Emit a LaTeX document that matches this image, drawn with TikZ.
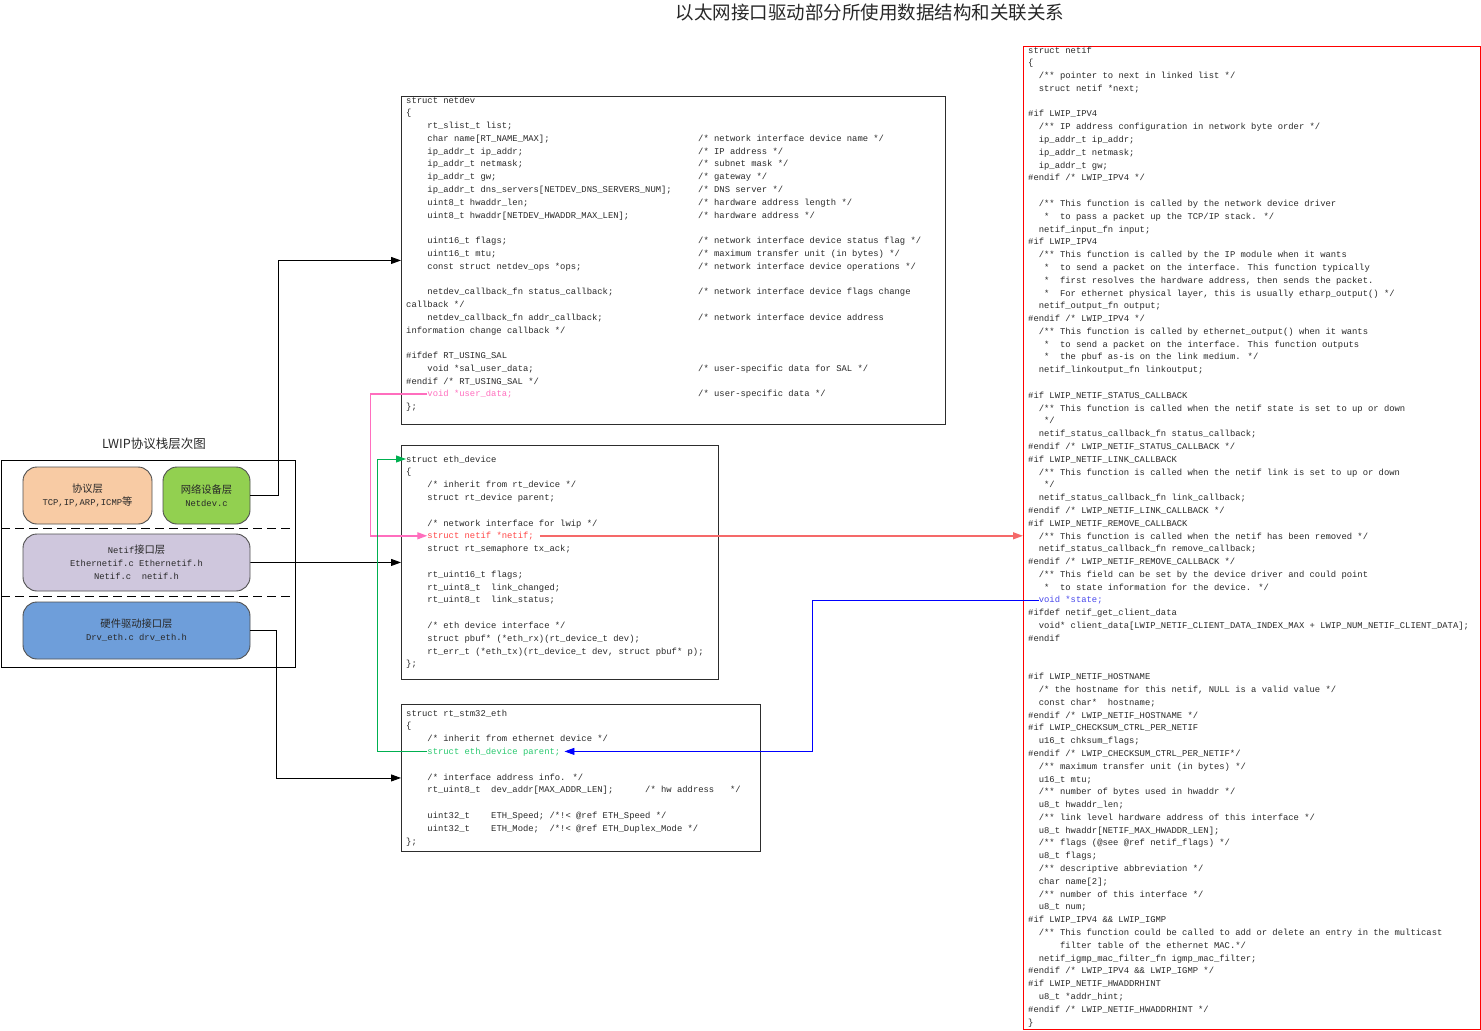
\documentclass[tikz,border=0pt]{standalone}
\usepackage{fontspec}
\newfontfamily\codefont{Liberation Mono}
\newfontfamily\cjk{Noto Sans CJK SC}
\usetikzlibrary{positioning, arrows.meta}

\definecolor{cCode}{RGB}{40,40,40}
\definecolor{cFrame}{RGB}{45,45,45}
\definecolor{cEdge}{RGB}{80,80,80}
\definecolor{cOrange}{RGB}{248,203,164}
\definecolor{cGreenL}{RGB}{146,208,80}
\definecolor{cLav}{RGB}{207,199,221}
\definecolor{cBlueL}{RGB}{110,158,218}
\definecolor{cPink}{RGB}{255,110,190}
\definecolor{cRedLn}{RGB}{245,105,105}
\definecolor{cRedTx}{RGB}{255,70,70}
\definecolor{cGreen}{RGB}{0,176,80}
\definecolor{cGreenTx}{RGB}{40,200,110}
\definecolor{cBlue}{RGB}{0,0,255}
\definecolor{cBlueTx}{RGB}{70,70,235}

\newcommand\cn[1]{{\cjk\fontsize{10.3}{13}\selectfont #1}}

\begin{document}
\begin{tikzpicture}[
  x=1pt, y=-1pt,
  >={Triangle[length=10pt, width=7pt]},
  code/.style      = {font=\codefont\fontsize{8.85}{12.8}\selectfont, anchor=base west, inner sep=0pt, text height=7pt, text depth=1pt, text=cCode},
  structbox/.style = {draw=cFrame, line width=0.9pt, anchor=north west, inner sep=0pt},
  layer/.style     = {draw=cEdge, line width=0.9pt, rounded corners=14pt, align=center, inner sep=0pt, minimum height=57pt, text=cCode, font=\codefont\fontsize{8.85}{13}\selectfont},
  laysep/.style    = {line width=0.9pt, dash pattern=on 9pt off 5pt},
  conn/.style      = {->, line width=0.9pt},
]
  \useasboundingbox (0,0) rectangle (1481,1031);
  \node[font=\cjk\fontsize{18.5}{20}\selectfont, text=cCode] (title) at (870,13) {以太网接口驱动部分所使用数据结构和关联关系};

  % LWIP layers
  \node[font=\cjk\fontsize{12.5}{14}\selectfont, text=cCode] (stacktitle) at (154,444) {LWIP协议栈层次图};
  \node[structbox, draw=black, minimum width=294pt, minimum height=207pt] (stackbox) at (1,460) {};
  \draw[laysep] (1,528) -- (295,528);
  \draw[laysep] (1,596) -- (295,596);
  \node[layer, fill=cOrange, minimum width=129pt] (protlayer) at (87.5,495.5) {\cn{协议层}\\TCP,IP,ARP,ICMP\cn{等}};
  \node[layer, fill=cGreenL, minimum width=87pt] (devlayer) at (206.5,495.5) {\cn{网络设备层}\\Netdev.c};
  \node[layer, fill=cLav, minimum width=227pt] (iflayer) at (136.5,562.5) {Netif\cn{接口层}\\Ethernetif.c Ethernetif.h\\Netif.c~~netif.h};
  \node[layer, fill=cBlueL, minimum width=227pt] (drvlayer) at (136.5,630.5) {\cn{硬件驱动接口层}\\Drv\_eth.c drv\_eth.h};

  % struct boxes
  \node[structbox, minimum width=544pt, minimum height=328pt] (ndbox) at (401,96) {};
  \node[structbox, minimum width=317pt, minimum height=234pt] (edbox) at (401,445) {};
  \node[structbox, minimum width=359pt, minimum height=147pt] (stbox) at (401,704) {};
  \node[structbox, draw=red, minimum width=457pt, minimum height=983pt] (nfbox) at (1023,46) {};

  % struct netdev
  \foreach \k/\i/\t in {1/0/{struct netdev}, 2/0/{\{}, 3/4/{rt\_slist\_t list;}, 4/4/{char name[RT\_NAME\_MAX];},
      5/4/{ip\_addr\_t ip\_addr;}, 6/4/{ip\_addr\_t netmask;}, 7/4/{ip\_addr\_t gw;},
      8/4/{ip\_addr\_t dns\_servers[NETDEV\_DNS\_SERVERS\_NUM];}, 9/4/{uint8\_t hwaddr\_len;},
      10/4/{uint8\_t hwaddr[NETDEV\_HWADDR\_MAX\_LEN];}, 12/4/{uint16\_t flags;}, 13/4/{uint16\_t mtu;},
      14/4/{const struct netdev\_ops *ops;}, 16/4/{netdev\_callback\_fn status\_callback;}, 17/0/{callback */},
      18/4/{netdev\_callback\_fn addr\_callback;}, 19/0/{information change callback */},
      21/0/{\#ifdef RT\_USING\_SAL}, 22/4/{void *sal\_user\_data;}, 23/0/{\#endif /* RT\_USING\_SAL */}, 25/0/{\};}}
    \node[code] (nd\k) at ({406+5.32*\i},{103+12.78*(\k-1)}) {\t};
  \foreach \k/\t in {4/{/* network interface device name */}, 5/{/* IP address */}, 6/{/* subnet mask */},
      7/{/* gateway */}, 8/{/* DNS server */}, 9/{/* hardware address length */}, 10/{/* hardware address */},
      12/{/* network interface device status flag */}, 13/{/* maximum transfer unit (in bytes) */},
      14/{/* network interface device operations */}, 16/{/* network interface device flags change},
      18/{/* network interface device address}, 22/{/* user-specific data for SAL */}, 24/{/* user-specific data */}}
    \node[code] (ndc\k) at (698,{103+12.78*(\k-1)}) {\t};
  \node[code, text=cPink] (nduser) at ({406+5.32*4},{103+12.78*23}) {void *user\_data;};

  % struct eth_device
  \foreach \k/\i/\t in {1/0/{struct eth\_device}, 2/0/{\{}, 3/4/{/* inherit from rt\_device */},
      4/4/{struct rt\_device parent;}, 6/4/{/* network interface for lwip */}, 8/4/{struct rt\_semaphore tx\_ack;},
      10/4/{rt\_uint16\_t flags;}, 11/4/{rt\_uint8\_t~~link\_changed;}, 12/4/{rt\_uint8\_t~~link\_status;},
      14/4/{/* eth device interface */}, 15/4/{struct pbuf* (*eth\_rx)(rt\_device\_t dev);},
      16/4/{rt\_err\_t (*eth\_tx)(rt\_device\_t dev, struct pbuf* p);}, 17/0/{\};}}
    \node[code] (ed\k) at ({406+5.32*\i},{462+12.8*(\k-1)}) {\t};
  \node[code, text=cRedTx] (ednetif) at ({406+5.32*4},{462+12.8*6}) {struct netif *netif;};

  % struct rt_stm32_eth
  \foreach \k/\i/\t in {1/0/{struct rt\_stm32\_eth}, 2/0/{\{}, 3/4/{/* inherit from ethernet device */},
      6/4/{/* interface address info. */}, 7/4/{rt\_uint8\_t~~dev\_addr[MAX\_ADDR\_LEN];~~~~~~/* hw address~~~*/},
      9/4/{uint32\_t~~~~ETH\_Speed; /*!< @ref ETH\_Speed */}, 10/4/{uint32\_t~~~~ETH\_Mode;~~/*!< @ref ETH\_Duplex\_Mode */},
      11/0/{\};}}
    \node[code] (st\k) at ({406+5.32*\i},{716+12.8*(\k-1)}) {\t};
  \node[code, text=cGreenTx] (stparent) at ({406+5.32*4},{716+12.8*3}) {struct eth\_device parent;};

  % struct netif
  \foreach \k/\i/\t in {1/0/{struct netif}, 2/0/{\{}, 3/2/{/** pointer to next in linked list */}, 4/2/{struct netif *next;},
      6/0/{\#if LWIP\_IPV4}, 7/2/{/** IP address configuration in network byte order */}, 8/2/{ip\_addr\_t ip\_addr;},
      9/2/{ip\_addr\_t netmask;}, 10/2/{ip\_addr\_t gw;}, 11/0/{\#endif /* LWIP\_IPV4 */},
      13/2/{/** This function is called by the network device driver}, 14/3/{*~~to pass a packet up the TCP/IP stack. */},
      15/2/{netif\_input\_fn input;}, 16/0/{\#if LWIP\_IPV4},
      17/2/{/** This function is called by the IP module when it wants},
      18/3/{*~~to send a packet on the interface. This function typically},
      19/3/{*~~first resolves the hardware address, then sends the packet.},
      20/3/{*~~For ethernet physical layer, this is usually etharp\_output() */},
      21/2/{netif\_output\_fn output;}, 22/0/{\#endif /* LWIP\_IPV4 */},
      23/2/{/** This function is called by ethernet\_output() when it wants},
      24/3/{*~~to send a packet on the interface. This function outputs},
      25/3/{*~~the pbuf as-is on the link medium. */}, 26/2/{netif\_linkoutput\_fn linkoutput;},
      28/0/{\#if LWIP\_NETIF\_STATUS\_CALLBACK}, 29/2/{/** This function is called when the netif state is set to up or down},
      30/3/{*/}, 31/2/{netif\_status\_callback\_fn status\_callback;}, 32/0/{\#endif /* LWIP\_NETIF\_STATUS\_CALLBACK */},
      33/0/{\#if LWIP\_NETIF\_LINK\_CALLBACK}, 34/2/{/** This function is called when the netif link is set to up or down},
      35/3/{*/}, 36/2/{netif\_status\_callback\_fn link\_callback;}, 37/0/{\#endif /* LWIP\_NETIF\_LINK\_CALLBACK */},
      38/0/{\#if LWIP\_NETIF\_REMOVE\_CALLBACK}, 39/2/{/** This function is called when the netif has been removed */},
      40/2/{netif\_status\_callback\_fn remove\_callback;}, 41/0/{\#endif /* LWIP\_NETIF\_REMOVE\_CALLBACK */},
      42/2/{/** This field can be set by the device driver and could point},
      43/3/{*~~to state information for the device. */},
      45/0/{\#ifdef netif\_get\_client\_data},
      46/2/{void* client\_data[LWIP\_NETIF\_CLIENT\_DATA\_INDEX\_MAX + LWIP\_NUM\_NETIF\_CLIENT\_DATA];}, 47/0/{\#endif},
      50/0/{\#if LWIP\_NETIF\_HOSTNAME}, 51/2/{/* the hostname for this netif, NULL is a valid value */},
      52/2/{const char*~~hostname;}, 53/0/{\#endif /* LWIP\_NETIF\_HOSTNAME */},
      54/0/{\#if LWIP\_CHECKSUM\_CTRL\_PER\_NETIF}, 55/2/{u16\_t chksum\_flags;},
      56/0/{\#endif /* LWIP\_CHECKSUM\_CTRL\_PER\_NETIF*/}, 57/2/{/** maximum transfer unit (in bytes) */},
      58/2/{u16\_t mtu;}, 59/2/{/** number of bytes used in hwaddr */}, 60/2/{u8\_t hwaddr\_len;},
      61/2/{/** link level hardware address of this interface */}, 62/2/{u8\_t hwaddr[NETIF\_MAX\_HWADDR\_LEN];},
      63/2/{/** flags (@see @ref netif\_flags) */}, 64/2/{u8\_t flags;}, 65/2/{/** descriptive abbreviation */},
      66/2/{char name[2];}, 67/2/{/** number of this interface */}, 68/2/{u8\_t num;},
      69/0/{\#if LWIP\_IPV4 \&\& LWIP\_IGMP},
      70/2/{/** This function could be called to add or delete an entry in the multicast},
      71/6/{filter table of the ethernet MAC.*/}, 72/2/{netif\_igmp\_mac\_filter\_fn igmp\_mac\_filter;},
      73/0/{\#endif /* LWIP\_IPV4 \&\& LWIP\_IGMP */}, 74/0/{\#if LWIP\_NETIF\_HWADDRHINT},
      75/2/{u8\_t *addr\_hint;}, 76/0/{\#endif /* LWIP\_NETIF\_HWADDRHINT */}, 77/0/{\}}}
    \node[code] (nf\k) at ({1028+5.32*\i},{53+12.79*(\k-1)}) {\t};
  \node[code, text=cBlueTx] (nfstate) at ({1028+5.32*2},{53+12.79*43}) {void *state;};

  % connectors
  \draw[conn] (devlayer.east) -- ++(28,0) |- (ndbox.west);
  \draw[conn] (iflayer.east) -- (edbox.west);
  \draw[conn] (drvlayer.east) -- ++(26,0) |- (stbox.west);
  \draw[conn, cPink, line width=1.4pt] (nduser.west) -- ++(-57,0) |- (ednetif.west);
  \draw[conn, cRedLn, line width=1.4pt] ([xshift=6pt]ednetif.east) -- (ednetif.east -| nfbox.west);
  \draw[conn, cGreen] (stparent.west) -- ++(-50,0) |- (ed1.west);
  \draw[conn, cBlue] (nfstate.west) -- ++(-226,0) |- ([xshift=4pt]stparent.east);
\end{tikzpicture}
\end{document}
